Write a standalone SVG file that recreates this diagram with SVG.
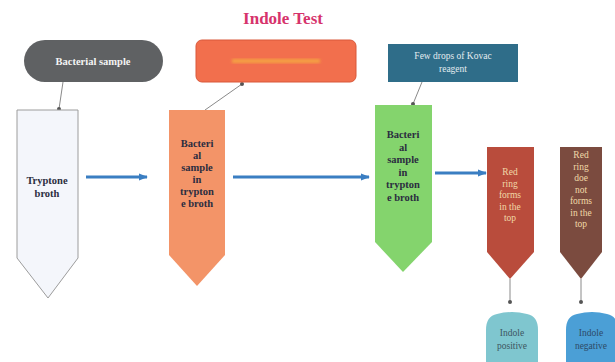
<svg xmlns="http://www.w3.org/2000/svg" width="615" height="362" viewBox="0 0 615 362">
<style>
text{font-family:'Liberation Serif','Times New Roman',serif}
.dark{font-weight:bold;font-size:10.5px;fill:#2b2d40;text-anchor:middle}
.cream{font-size:9.5px;fill:#f1d9a8;text-anchor:middle}
.white{font-weight:bold;font-size:10.5px;fill:#f4f4f4;text-anchor:middle}
.light{font-size:9.5px;text-anchor:middle}
.thin{stroke:#8a8a8a;stroke-width:1;fill:none}
.blue{stroke:#3a7ec2;stroke-width:3;fill:none}
</style>
<defs>
<marker id="dot" viewBox="0 0 6 6" refX="3" refY="3" markerWidth="4" markerHeight="4" markerUnits="userSpaceOnUse"><circle cx="3" cy="3" r="3" fill="#555"/></marker>
<marker id="arr" viewBox="0 0 10 10" refX="9" refY="5" markerWidth="3" markerHeight="3" orient="auto"><path d="M0,1 L10,5 L0,9 Z" fill="#3a7ec2"/></marker>
<filter id="blur"><feGaussianBlur stdDeviation="1.5"/></filter>
</defs>
<rect width="615" height="362" fill="#ffffff"/>
<text x="283" y="24" style="font-weight:bold;font-size:17px;fill:#d6336c;text-anchor:middle">Indole Test</text>

<g id="connectors">
<line class="thin" x1="63" y1="82" x2="59" y2="109" marker-end="url(#dot)"/>
<line class="thin" x1="205" y1="110" x2="242" y2="84" marker-end="url(#dot)"/>
<line class="thin" x1="422" y1="82" x2="413" y2="104" marker-end="url(#dot)"/>
<line class="thin" x1="510" y1="279" x2="510" y2="302" marker-end="url(#dot)"/>
<line class="thin" x1="581" y1="279" x2="581" y2="302" marker-end="url(#dot)"/>
<line class="blue" x1="86" y1="177" x2="147" y2="177" marker-end="url(#arr)"/>
<line class="blue" x1="233" y1="177" x2="369" y2="177" marker-end="url(#arr)"/>
<line class="blue" x1="435" y1="173" x2="486" y2="173" marker-end="url(#arr)"/>
</g>

<g id="bacterial-sample">
<rect x="24" y="40" width="139" height="42" rx="21" fill="#5f6163"/>
<text class="white" x="93" y="65">Bacterial sample</text>
</g>

<g id="orange-box">
<rect x="196" y="40" width="160" height="42" rx="6" fill="#f26f4d" stroke="#d9583a" stroke-width="1"/>
<rect x="232" y="59" width="88" height="4" fill="#f5b040" filter="url(#blur)" opacity="0.8"/>
</g>

<g id="kovac">
<rect x="388" y="44" width="130" height="38" fill="#2f6d89"/>
<text class="light" x="453" y="59" fill="#e4ecf0">Few drops of Kovac</text>
<text class="light" x="453" y="72" fill="#e4ecf0">reagent</text>
</g>

<g id="tryptone">
<polygon points="17,110 78,110 78,258 48,298 17,258" fill="#f4f6fb" stroke="#9c9c9c" stroke-width="1"/>
<text class="dark" x="47" y="184">Tryptone</text>
<text class="dark" x="47" y="197">broth</text>
</g>

<g id="orange-arrow">
<polygon points="169,110 225,110 225,255 197,286 169,255" fill="#f39468"/>
<text class="dark" x="197" y="147">Bacteri</text>
<text class="dark" x="197" y="159">al</text>
<text class="dark" x="197" y="171">sample</text>
<text class="dark" x="197" y="183">in</text>
<text class="dark" x="197" y="195">trypton</text>
<text class="dark" x="197" y="207">e broth</text>
</g>

<g id="green-arrow">
<polygon points="375,105 432,105 432,242 403,272 375,242" fill="#84d46d"/>
<text class="dark" x="403" y="138">Bacteri</text>
<text class="dark" x="403" y="151">al</text>
<text class="dark" x="403" y="163">sample</text>
<text class="dark" x="403" y="176">in</text>
<text class="dark" x="403" y="188">trypton</text>
<text class="dark" x="403" y="201">e broth</text>
</g>

<g id="red-arrow">
<polygon points="487,147 534,147 534,252 510,279 487,252" fill="#b94c3c"/>
<text class="cream" x="510" y="175">Red</text>
<text class="cream" x="510" y="187">ring</text>
<text class="cream" x="510" y="198">forms</text>
<text class="cream" x="510" y="210">in the</text>
<text class="cream" x="510" y="221">top</text>
</g>

<g id="brown-arrow">
<polygon points="560,147 602,147 602,252 581,279 560,252" fill="#7b4b3f"/>
<text class="cream" x="581" y="158">Red</text>
<text class="cream" x="581" y="170">ring</text>
<text class="cream" x="581" y="181">doe</text>
<text class="cream" x="581" y="193">not</text>
<text class="cream" x="581" y="204">forms</text>
<text class="cream" x="581" y="216">in the</text>
<text class="cream" x="581" y="227">top</text>
</g>

<g id="indole-positive">
<path d="M497,314 Q512,310 527,314 Q538,316 538,330 L538,362 L486,362 L486,330 Q486,316 497,314 Z" fill="#7fc6cf"/>
<text class="light" x="512" y="336" fill="#3d5560">Indole</text>
<text class="light" x="512" y="349" fill="#3d5560">positive</text>
</g>

<g id="indole-negative">
<path d="M577,314 Q592,310 607,314 Q618,316 618,330 L618,362 L566,362 L566,330 Q566,316 577,314 Z" fill="#4b9fd6"/>
<text class="light" x="591" y="336" fill="#2d4a66">Indole</text>
<text class="light" x="591" y="349" fill="#2d4a66">negative</text>
</g>
</svg>
